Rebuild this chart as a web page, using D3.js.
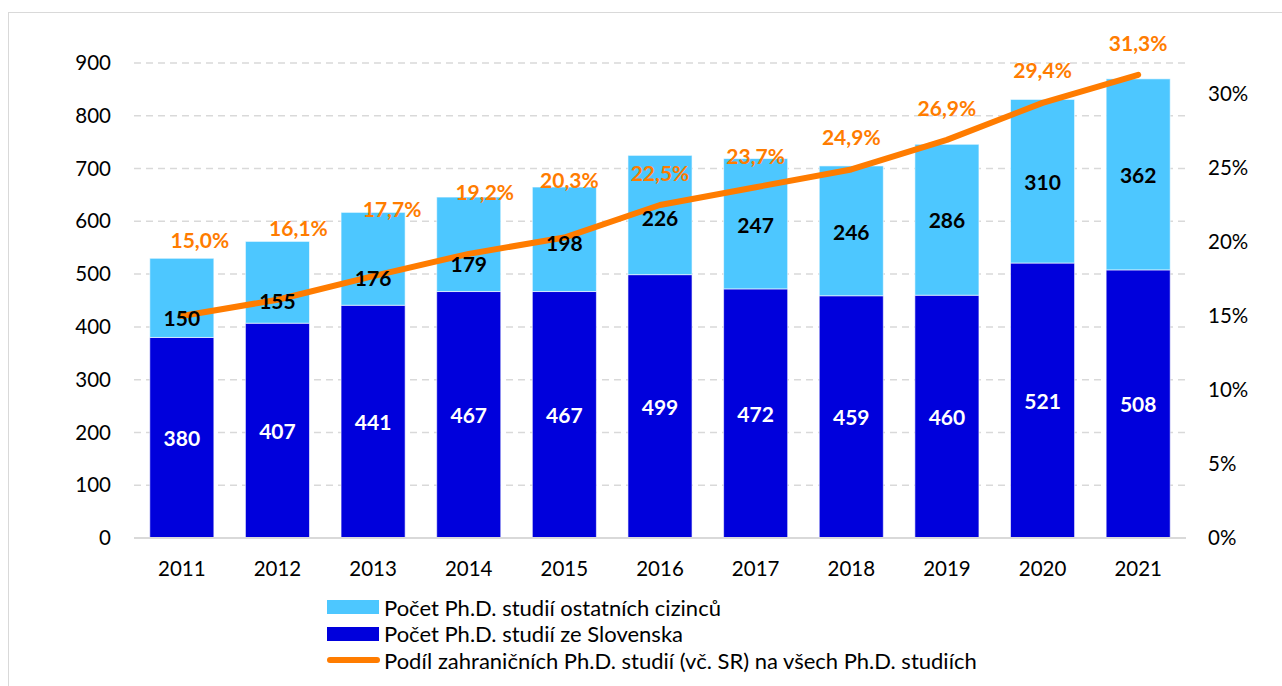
<!DOCTYPE html>
<meta charset="utf-8">
<style>
body { margin: 0; background: #fff; font-family: Lato, "Open Sans", sans-serif; }
.grid line { stroke: #d9d9d9; stroke-width: 1.5px; stroke-dasharray: 7,5; }
.axis text { font-size: 20.5px; fill: #000; }
.lbl { font-size: 21px; font-weight: bold; text-anchor: middle; dominant-baseline: central; }
</style>
<body>
<script src="https://d3js.org/d3.v7.min.js"></script>
<script>

var years = ["2011","2012","2013","2014","2015","2016","2017","2018","2019","2020","2021"];
var slovak = [380, 407, 441, 467, 467, 499, 472, 459, 460, 521, 508];
var others = [150, 155, 176, 179, 198, 226, 247, 246, 286, 310, 362];
var share  = [15.0, 16.1, 17.7, 19.2, 20.3, 22.5, 23.7, 24.9, 26.9, 29.4, 31.3];
var leftTicks  = [0, 100, 200, 300, 400, 500, 600, 700, 800, 900];
var rightTicks = [0, 5, 10, 15, 20, 25, 30];
var legendNames = ["Počet Ph.D. studií ostatních cizinců",
                   "Počet Ph.D. studií ze Slovenska",
                   "Podíl zahraničních Ph.D. studií (vč. SR) na všech Ph.D. studiích"];

// label placement (moved by hand in the original)
var pctDx = [18, 21, 19, 16, 5, 0, 0, 0, 0, 0, 0];
var pctDy = [-77, -72, -68, -62, -58, -33, -32, -33, -32, -33, -32];
var otherDy = [20, 18, 19, 19, 3, 2, 1, 1, 0, 0, 0];

var lightBlue = "#4dc7ff", darkBlue = "#0000dc", orange = "#ff7c00";

var width = 1282, height = 686;

var svg = d3.select("body").append("svg")
    .attr("width", width)
    .attr("height", height);

svg.append("rect")
    .attr("x", 8.5).attr("y", 12.5)
    .attr("width", 1400).attr("height", 800)
    .attr("fill", "none").attr("stroke", "#d9d9d9");

var x = d3.scaleBand().domain(years).range([134, 1186])
    .paddingInner(0.33).paddingOuter(0.165);
var y = d3.scaleLinear().domain([0, 900]).range([538, 63]);
var y2 = d3.scaleLinear().domain([0, 30]).range([538, 94]);

// gridlines
svg.append("g").attr("class", "grid")
  .selectAll("line").data(leftTicks.slice(1))
  .enter().append("line")
    .attr("x1", 134).attr("x2", 1186)
    .attr("y1", function(d){ return y(d); })
    .attr("y2", function(d){ return y(d); });

// left axis
var ax = svg.append("g").attr("class", "axis")
    .attr("transform", "translate(111,0)")
    .call(d3.axisLeft(y).tickValues(leftTicks).tickSize(0).tickPadding(0));
ax.select(".domain").remove();
ax.selectAll("text").attr("font-family", "Lato");

// right axis
var ax2 = svg.append("g").attr("class", "axis")
    .attr("transform", "translate(1208,0)")
    .call(d3.axisRight(y2).tickValues(rightTicks).tickSize(0).tickPadding(0)
      .tickFormat(function(d){ return d + "%"; }));
ax2.select(".domain").remove();
ax2.selectAll("text").attr("font-family", "Lato");

// bottom axis
var ax3 = svg.append("g").attr("class", "axis")
    .attr("transform", "translate(0,558)")
    .call(d3.axisBottom(x).tickSize(0).tickPadding(0));
ax3.select(".domain").remove();
ax3.selectAll("text").attr("font-family", "Lato").attr("dy", "0.9em");

// bars
var bars = svg.append("g");
bars.selectAll(".slov").data(years).enter().append("rect")
    .attr("x", function(d){ return x(d); })
    .attr("width", x.bandwidth())
    .attr("y", function(d, i){ return y(slovak[i]); })
    .attr("height", function(d, i){ return y(0) - y(slovak[i]); })
    .attr("fill", darkBlue)
    .attr("stroke", "rgba(255,255,255,0.6)").attr("stroke-width", 1);
bars.selectAll(".oth").data(years).enter().append("rect")
    .attr("x", function(d){ return x(d); })
    .attr("width", x.bandwidth())
    .attr("y", function(d, i){ return y(slovak[i] + others[i]); })
    .attr("height", function(d, i){ return y(slovak[i]) - y(slovak[i] + others[i]); })
    .attr("fill", lightBlue)
    .attr("stroke", "rgba(255,255,255,0.6)").attr("stroke-width", 1);

// baseline
svg.append("line")
    .attr("x1", 134).attr("x2", 1186)
    .attr("y1", y(0)).attr("y2", y(0))
    .attr("stroke", "#d9d9d9").attr("stroke-width", 2);

// share line
var line = d3.line()
    .x(function(d, i){ return x(years[i]) + x.bandwidth() / 2; })
    .y(function(d){ return y2(d); });
svg.append("path")
    .datum(share)
    .attr("d", line)
    .attr("fill", "none")
    .attr("stroke", orange)
    .attr("stroke-width", 6)
    .attr("stroke-linecap", "round")
    .attr("stroke-linejoin", "round");

// bar labels
svg.selectAll(".slovLbl").data(years).enter().append("text")
    .attr("class", "lbl")
    .attr("x", function(d){ return x(d) + x.bandwidth() / 2; })
    .attr("y", function(d, i){ return (y(0) + y(slovak[i])) / 2; })
    .attr("fill", "#fff")
    .text(function(d, i){ return slovak[i]; });
svg.selectAll(".othLbl").data(years).enter().append("text")
    .attr("class", "lbl")
    .attr("x", function(d){ return x(d) + x.bandwidth() / 2; })
    .attr("y", function(d, i){ return (y(slovak[i]) + y(slovak[i] + others[i])) / 2 + otherDy[i]; })
    .attr("fill", "#000")
    .text(function(d, i){ return others[i]; });

svg.selectAll(".pctLbl").data(share).enter().append("text")
    .attr("class", "lbl")
    .attr("x", function(d, i){ return x(years[i]) + x.bandwidth() / 2 + pctDx[i]; })
    .attr("y", function(d, i){ return y2(d) + pctDy[i]; })
    .attr("fill", orange)
    .text(function(d){ return d.toFixed(1).replace(".", ",") + "%"; });

// legend
var lg = svg.append("g").attr("transform", "translate(327,607)");
lg.append("rect").attr("x", 0).attr("y", -7).attr("width", 52).attr("height", 14).attr("fill", lightBlue);
lg.append("rect").attr("x", 0).attr("y", 20).attr("width", 52).attr("height", 14).attr("fill", darkBlue);
lg.append("line").attr("x1", 3).attr("x2", 50).attr("y1", 53).attr("y2", 53)
    .attr("stroke", orange).attr("stroke-width", 6).attr("stroke-linecap", "round");
lg.selectAll("text").data(legendNames).enter().append("text")
    .attr("x", 57)
    .attr("y", function(d, i){ return i * 26.5; })
    .attr("dominant-baseline", "central")
    .attr("font-size", 22)
    .text(function(d){ return d; });

</script>
